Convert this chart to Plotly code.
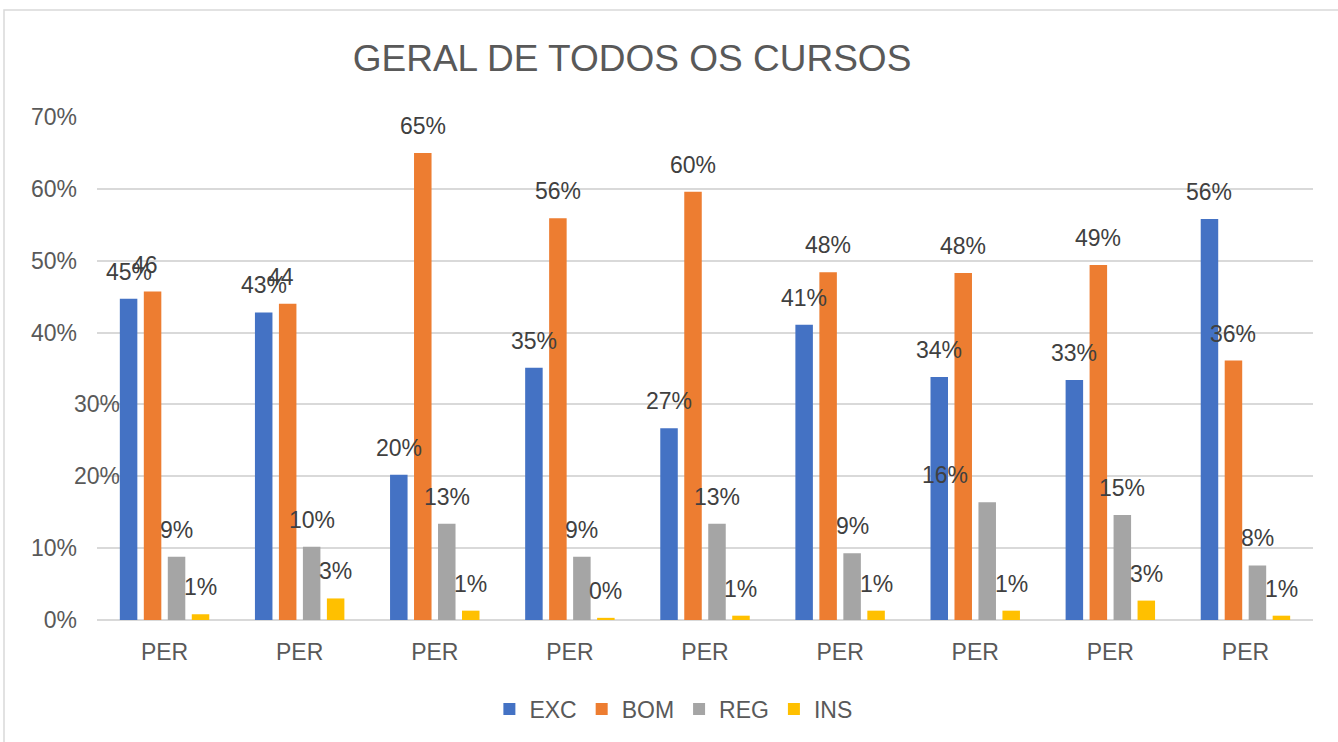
import plotly.graph_objects as go

categories = ["PER"] * 9
series_names = ["EXC", "BOM", "REG", "INS"]
exc = [44.7, 42.8, 20.2, 35.1, 26.7, 41.1, 33.8, 33.4, 55.8]
bom = [45.7, 44.0, 65.0, 55.9, 59.6, 48.4, 48.3, 49.4, 36.1]
reg = [8.8, 10.2, 13.4, 8.8, 13.4, 9.3, 16.4, 14.6, 7.6]
ins = [0.8, 3.0, 1.3, 0.3, 0.6, 1.3, 1.3, 2.7, 0.6]
colors = ["#4472C4", "#ED7D31", "#A5A5A5", "#FFC000"]
y_ticks = [0, 10, 20, 30, 40, 50, 60, 70]

# label quirks seen in the reference (truncated / shifted labels)
label_text_override = {(1, 0): "46", (1, 1): "44"}
label_xshift = {(1, 0): -8, (1, 1): -7, (2, 6): -42}

series = [exc, bom, reg, ins]
xs = list(range(len(categories)))

BARGAP = 0.29
GROUPGAP = 0.27
slot = (1 - BARGAP) / len(series)

fig = go.Figure()
for s, (name, vals, col) in enumerate(zip(series_names, series, colors)):
    fig.add_trace(go.Bar(x=xs, y=vals, name=name, marker=dict(color=col, line=dict(width=0))))

ann = []
for s, vals in enumerate(series):
    off = (s - (len(series) - 1) / 2) * slot
    for g, v in enumerate(vals):
        txt = label_text_override.get((s, g), f"{round(v):.0f}%")
        ann.append(dict(x=xs[g] + off, y=v, xref="x", yref="y", text=txt, showarrow=False,
                        yanchor="middle", yshift=27, xshift=label_xshift.get((s, g), 0),
                        font=dict(family="Liberation Sans, Arial", size=23, color="#404040")))

# shifted y tick labels (30%, 20%) as in the reference
shifted = [30, 20]
for t in shifted:
    ann.append(dict(x=0, y=t, xref="paper", yref="y", text=f"{t}%", showarrow=False,
                    xanchor="right", yanchor="middle", xshift=25,
                    font=dict(family="Liberation Sans, Arial", size=23, color="#595959")))

ticktext = ["" if t in shifted else f"{t}%" for t in y_ticks]

fig.update_layout(
    width=1338, height=742,
    margin=dict(l=97, r=25, t=117, b=122),
    paper_bgcolor="white", plot_bgcolor="white",
    barmode="group", bargap=BARGAP, bargroupgap=GROUPGAP,
    font=dict(family="Liberation Sans, Arial", size=23, color="#595959"),
    title=dict(text="GERAL DE TODOS OS CURSOS", x=0.44, xref="paper", xanchor="center",
               y=1 - 58 / 742, yref="container", yanchor="middle",
               font=dict(size=37, color="#595959")),
    xaxis=dict(tickvals=xs, ticktext=categories, range=[-0.5, len(xs) - 0.5],
               showgrid=False, zeroline=False, showline=False, ticks="",
               ticklabelstandoff=16, tickfont=dict(size=23, color="#595959")),
    yaxis=dict(range=[0, 70], tickvals=y_ticks, ticktext=ticktext,
               showgrid=True, gridcolor="#D9D9D9", gridwidth=1.5,
               zeroline=True, zerolinecolor="#D9D9D9", zerolinewidth=1.5,
               ticks="", ticklabelstandoff=19, tickfont=dict(size=23, color="#595959")),
    legend=dict(orientation="h", x=0.474, xanchor="center", y=(620 - 709) / 503, yanchor="middle",
                font=dict(size=23, color="#595959"), itemwidth=30, traceorder="normal"),
    annotations=ann,
    shapes=[dict(type="path", xref="paper", yref="paper",
                 path=f"M {(4-97)/1216} {(620-760)/503} L {(4-97)/1216} {(620-10)/503} L {(1360-97)/1216} {(620-10)/503}",
                 line=dict(color="#D9D9D9", width=1.5), layer="below")],
)

fig.write_html("out.html", config={"displayModeBar": False},
               post_script="document.body.style.margin='0';")
